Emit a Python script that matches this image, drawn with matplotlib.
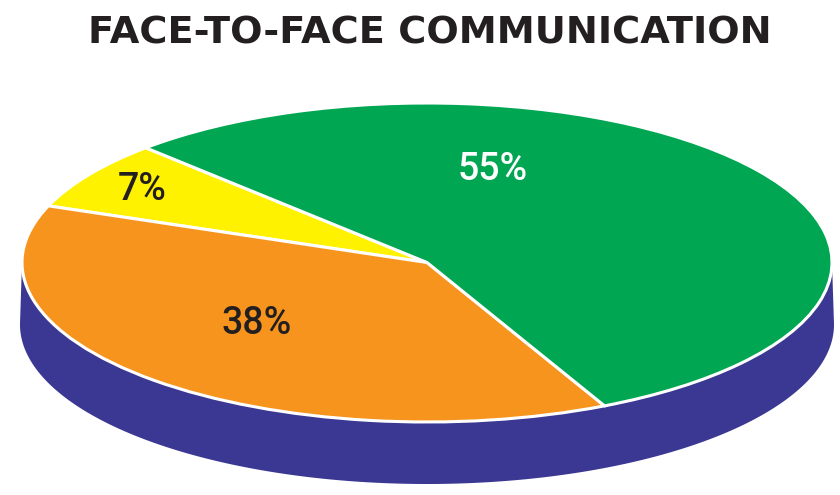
import numpy as np
import matplotlib
matplotlib.use('Agg')
import matplotlib.pyplot as plt
from matplotlib.patches import Polygon
from matplotlib.transforms import Affine2D

# slice data (drawn counter-clockwise from the start angle)
labels = ['7%', '38%', '55%']
shares = [7, 38, 55]
slice_colors = ['#FFF200', '#F7941D', '#00A651']
label_colors = ['#231F20', '#231F20', '#FFFFFF']
title = 'FACE-TO-FACE COMMUNICATION'

# geometry of the tilted disc, in pixels of the 840x495 canvas
W, H = 840, 495
cx, cy = 427, 262.5      # centre of the top face
rx, ry = 405, 159.5      # semi axes of the top face
depth = 62               # thickness of the blue side
squash = ry / rx

fig = plt.figure(figsize=(W / 100, H / 100), dpi=100)
ax = fig.add_axes([0, 0, 1, 1])

wedges, _ = ax.pie(shares, colors=slice_colors, startangle=134,
                   wedgeprops=dict(edgecolor='white', linewidth=2.2))
tilt = Affine2D().scale(1, squash) + ax.transData
for w in wedges:
    w.set_transform(tilt)
    w.set_zorder(3)

# blue side of the disc: lower half of the rim pushed down
t = np.linspace(np.pi, 2 * np.pi, 200)
d = depth / rx
top = np.column_stack([np.cos(t), squash * np.sin(t)])
bottom = np.column_stack([np.cos(t[::-1]) * 1.005,
                          squash * np.sin(t[::-1]) - d])
side = Polygon(np.vstack([top, bottom]), closed=True,
               facecolor='#3B3894', edgecolor='none', zorder=1)
ax.add_patch(side)

# label positions on the top face (pixels)
label_pos = [(142, 189), (257, 323), (493, 170)]
for txt, col, (px, py) in zip(labels, label_colors, label_pos):
    ax.text((px - cx) / rx, (cy - py) / rx, txt, color=col,
            fontsize=27, fontfamily='Roboto', fontweight='medium',
            ha='center', va='center', zorder=5)

ax.set_xlim(-cx / rx, (W - cx) / rx)
ax.set_ylim((cy - H) / rx, cy / rx)
ax.set_aspect('auto')
ax.axis('off')

fig.text(430 / W, 1 - 33 / H, title, ha='center', va='center',
         fontsize=27.5, fontweight='heavy', fontfamily='DejaVu Sans',
         color='#231F20')

fig.savefig('out.png', dpi=100, facecolor='white')
